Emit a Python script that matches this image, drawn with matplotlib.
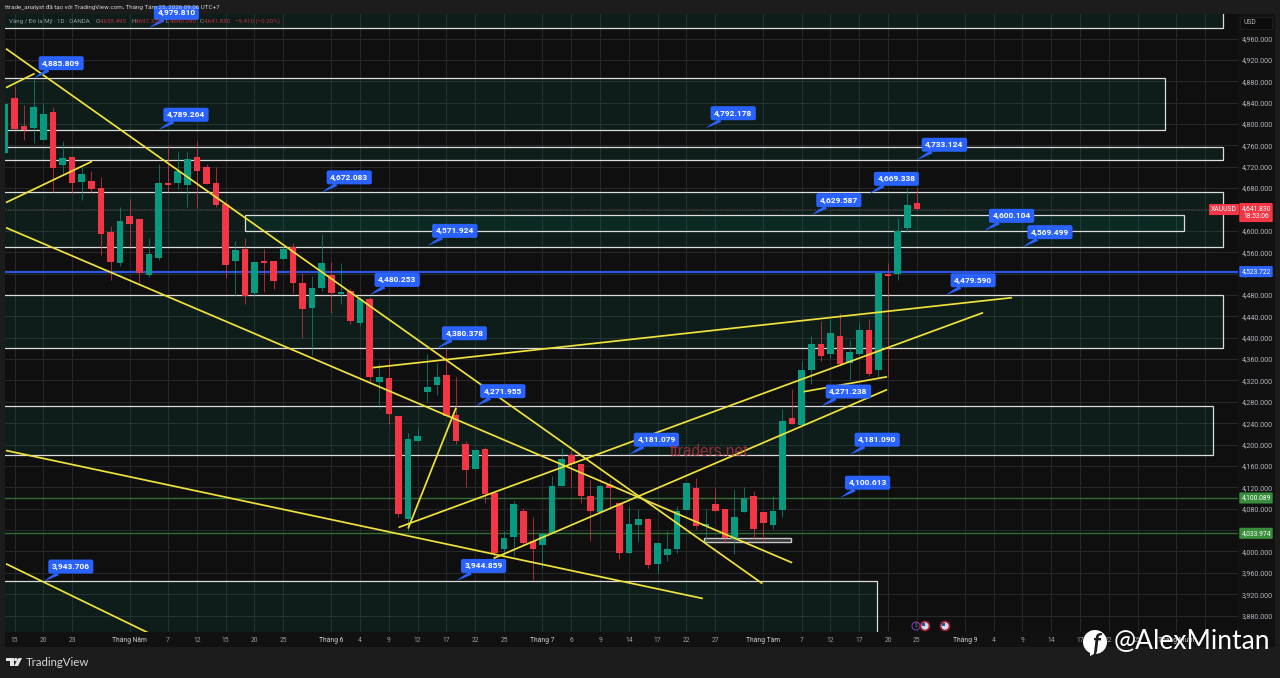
import matplotlib
matplotlib.use("Agg")
import matplotlib.pyplot as plt
from matplotlib.patches import Rectangle, Circle, Polygon

plt.rcParams["font.family"] = ["Roboto", "DejaVu Sans"]

# daily candles, bar index = position in list
opens = [4745, 4848, 4797, 4792, 4771, 4823, 4724, 4739, 4692, 4694, 4681, 4597, 4539, 4627, 4623, 4518,
         4550, 4689, 4690, 4685, 4739, 4719, 4690, 4651, 4543, 4567, 4483, 4543, 4543, 4548, 4569, 4503,
         4455, 4494, 4518, 4481, 4488, 4428, 4473, 4318, 4324, 4254, 4060, 4206, 4299, 4311, 4331, 4256,
         4202, 4155, 4191, 4110, 4005, 4028, 4075, 4019, 4013, 4035, 4123, 4180, 4163, 4103, 4073, 4125,
         4090, 3998, 4050, 4060, 3977, 3994, 4005, 4077, 4118, 4047, 4088, 4079, 4024, 4073, 4103, 4073,
         4050, 4077, 4249, 4236, 4339, 4389, 4370, 4404, 4352, 4370, 4415, 4339, 4520, 4520, 4606, 4653]
highs = [4838, 4872, 4836, 4885, 4838, 4831, 4769, 4739, 4719, 4713, 4700, 4610, 4644, 4659, 4623, 4586,
         4726, 4760, 4747, 4747, 4769, 4726, 4719, 4657, 4582, 4586, 4541, 4567, 4543, 4573, 4578, 4522,
         4516, 4595, 4541, 4539, 4494, 4477, 4477, 4352, 4363, 4254, 4221, 4232, 4369, 4352, 4380, 4326,
         4206, 4189, 4195, 4110, 4039, 4095, 4082, 4064, 4032, 4142, 4193, 4189, 4163, 4133, 4122, 4133,
         4092, 4086, 4080, 4062, 4015, 4039, 4086, 4129, 4138, 4080, 4118, 4079, 4116, 4120, 4114, 4073,
         4103, 4267, 4305, 4357, 4404, 4432, 4436, 4447, 4395, 4428, 4436, 4522, 4539, 4625, 4681, 4681]
lows = [4745, 4790, 4771, 4765, 4771, 4672, 4707, 4670, 4657, 4670, 4554, 4509, 4535, 4569, 4503, 4513,
        4546, 4672, 4679, 4644, 4642, 4687, 4644, 4511, 4479, 4464, 4479, 4485, 4492, 4548, 4483, 4400,
        4367, 4488, 4447, 4464, 4425, 4423, 4316, 4269, 4239, 4064, 4039, 4206, 4279, 4292, 4254, 4202,
        4120, 4155, 4090, 3992, 3992, 3992, 4011, 3946, 3970, 4034, 4123, 4120, 4090, 4020, 4073, 4080,
        3985, 3998, 4017, 3970, 3959, 3983, 3998, 4077, 4043, 4015, 4075, 4015, 3996, 4073, 4024, 4020,
        4043, 4064, 4238, 4236, 4314, 4357, 4363, 4348, 4320, 4367, 4329, 4327, 4326, 4509, 4597, 4640]
closes = [4838, 4790, 4788, 4831, 4818, 4717, 4737, 4690, 4707, 4679, 4595, 4541, 4619, 4612, 4522, 4556,
          4689, 4685, 4713, 4734, 4713, 4687, 4649, 4537, 4565, 4479, 4541, 4539, 4507, 4567, 4503, 4453,
          4494, 4539, 4483, 4486, 4432, 4473, 4326, 4327, 4258, 4071, 4210, 4217, 4307, 4327, 4254, 4206,
          4153, 4189, 4108, 3998, 4026, 4088, 4015, 4005, 4032, 4122, 4174, 4163, 4103, 4075, 4122, 4118,
          3998, 4052, 4060, 3974, 4015, 4005, 4075, 4129, 4047, 4052, 4075, 4026, 4065, 4101, 4043, 4054,
          4075, 4245, 4238, 4340, 4389, 4365, 4408, 4350, 4374, 4415, 4333, 4522, 4516, 4599, 4649, 4641.83]

# supply / demand boxes
zone_tops = [5030, 4885.809, 4757.5, 4672.083, 4629.587, 4479.59, 4271.955, 3944.859]
zone_bottoms = [4979.81, 4789.264, 4733.124, 4569.499, 4600.104, 4380.378, 4181.079, 3800]
zone_starts = [-2, -2, -2, -2, 25, -2, -2, -2]
zone_ends = [126.9, 120.8, 126.9, 126.9, 122.8, 126.9, 125.8, 90.8]

# trend lines
line_bars0 = [0.11, 0.11, 0.11, 0.11, 0.11, 0.11, 38.3, 41.0, 50.9, 42.0, 83.2]
line_prices0 = [4941, 4606, 4189, 3977, 4868, 4653, 4344, 4045, 3987, 4043, 4299]
line_bars1 = [78.9, 82.0, 72.7, 14.9, 3.1, 9.07, 104.9, 101.9, 91.9, 47.0, 91.9]
line_prices1 = [3940, 3979, 3912, 3848, 4894.5, 4730, 4475, 4447, 4303, 4269, 4327]

# blue callouts
label_values = [4979.810, 4885.809, 4789.264, 4792.178, 4672.083, 4629.587, 4669.338, 4733.124, 4600.104,
                4569.499, 4571.924, 4480.253, 4479.590, 4380.378, 4271.955, 4271.238, 4181.079, 4181.090,
                4100.613, 3944.859, 3943.706]
label_bars = [15, 3, 16, 73, 33, 84, 90, 95, 102, 106, 44, 38, 98, 45, 49, 85, 65, 88, 87, 47, 4]

tick_bars = [1, 4, 7, 13, 17, 20, 23, 26, 29, 34, 37, 40, 43, 46, 49, 52, 56, 59, 62, 65, 68, 71, 74, 79,
             83, 86, 89, 92, 95, 100, 103, 106, 109, 112, 115, 118, 122, 125]
tick_labels = ["15", "20", "23", "Tháng Năm", "7", "12", "15", "20", "25", "Tháng 6", "4", "9", "12", "17",
               "22", "25", "Tháng 7", "6", "9", "14", "17", "22", "27", "Tháng Tám", "7", "12", "17", "20",
               "25", "Tháng 9", "4", "9", "14", "17", "22", "25", "Tháng Mười", ""]
price_ticks = list(range(3880, 4961, 40))

last_price = 4641.83
blue_level = 4523.722
green_levels = [4100.089, 4033.974]

GREEN = "#089981"
RED = "#f23645"
BLUE = "#2962ff"
YELLOW = "#f0e23c"
GRID = "#262a2a"
TEXT = "#b2b5be"

fig = plt.figure(figsize=(12.8, 6.78), dpi=100, facecolor="#1c1c1c")


def box(left, top, right, bottom):
    return [left / 1280, 1 - bottom / 678, (right - left) / 1280, (bottom - top) / 678]


# dark panel behind chart, price scale and time scale
back = fig.add_axes(box(5, 14, 1275, 647), zorder=0, facecolor="#111111")
back.set_xticks([])
back.set_yticks([])
for s in back.spines.values():
    s.set_visible(False)

ax = fig.add_axes(box(5, 14, 1238, 632), zorder=1, facecolor="#0f0f0f")
ax.set_xlim(0.01, 128.45)
ax.set_ylim(3849.3, 5005.9)
for s in ax.spines.values():
    s.set_visible(False)

ax.set_xticks(tick_bars)
ax.set_xticklabels(tick_labels, fontsize=4.9, color="#9a9da5")
for t in ax.get_xticklabels():
    if t.get_text().startswith("Tháng"):
        t.set_color("#d0d0d0")
ax.yaxis.tick_right()
ax.set_yticks(price_ticks)
# 4,640 sits under the last price tag
ax.set_yticklabels(["" if v == 4640 else f"{v:,.3f}" for v in price_ticks], fontsize=5.1, color=TEXT)
ax.tick_params(axis="both", length=0)
ax.tick_params(axis="x", pad=3.5)
ax.tick_params(axis="y", pad=3)
ax.grid(True, color=GRID, linewidth=0.7)
ax.set_axisbelow(True)

for top, bottom, start, end in zip(zone_tops, zone_bottoms, zone_starts, zone_ends):
    ax.add_patch(Rectangle((start, bottom), end - start, top - bottom, facecolor=GREEN, alpha=0.1,
                           edgecolor="none", zorder=1))
    ax.add_patch(Rectangle((start, bottom), end - start, top - bottom, fill=False, edgecolor="#dcdcdc",
                           linewidth=0.9, zorder=1.5))
ax.add_patch(Rectangle((72.8, 4018), 9.1, 7, facecolor="#333333", edgecolor="#c8c8c8", linewidth=1.0, zorder=2.5))

# horizontal levels
ax.axhline(blue_level, color="#2a56e0", linewidth=1.6, zorder=2)
for level in green_levels:
    ax.axhline(level, color="#2f6f35", linewidth=1.0, zorder=2)
ax.axhline(last_price, color="#6b3a40", linewidth=0.7, linestyle=(0, (1, 1.5)), zorder=2)

# candles
for i, (o, h, l, c) in enumerate(zip(opens, highs, lows, closes)):
    col = GREEN if c >= o else RED
    ax.vlines(i, l, h, color=col, linewidth=0.55, alpha=0.85, zorder=3)
    ax.bar(i, abs(c - o), bottom=min(o, c), width=0.7, color=col, linewidth=0, zorder=3.2)

for x0, y0, x1, y1 in zip(line_bars0, line_prices0, line_bars1, line_prices1):
    ax.plot([x0, x1], [y0, y1], color=YELLOW, linewidth=1.25, solid_capstyle="butt", zorder=4)

for value, bar in zip(label_values, label_bars):
    ax.annotate(f"{value:,.3f}", xy=(bar, value), xytext=(27.5, 15), textcoords="offset pixels",
                ha="center", va="center", fontsize=6, fontweight="bold", color="white", zorder=6,
                bbox=dict(boxstyle="round,pad=0.42,rounding_size=0.25", fc=BLUE, ec="none"),
                arrowprops=dict(arrowstyle="wedge,tail_width=0.45,shrink_factor=0.6", color=BLUE,
                                shrinkA=0, shrinkB=0, lw=0),
                annotation_clip=False)


# tags on the price scale
def price_tag(price, text, color, dx=18, text_color="white", dy=0):
    ax.annotate(text, xy=(1, price), xycoords=ax.get_yaxis_transform(), xytext=(dx, dy),
                textcoords="offset pixels", ha="center", va="center", fontsize=4.9, color=text_color,
                zorder=7, annotation_clip=False,
                bbox=dict(boxstyle="round,pad=0.3,rounding_size=0.15", fc=color, ec="none"))


price_tag(blue_level, f"{blue_level:,.3f}", BLUE)
for level in green_levels:
    price_tag(level, f"{level:,.3f}", "#388e3c")
price_tag(last_price, f"{last_price:,.3f}\n18:53:06", RED, dy=-4)
price_tag(last_price, "XAUUSD", RED, dx=-14, dy=-1)

# header, footer and everything in screen position
over = fig.add_axes([0, 0, 1, 1], zorder=3, facecolor="none")
over.set_xlim(0, 1280)
over.set_ylim(678, 0)
over.axis("off")

over.text(5, 7.5, "ttrade_analyst đã tạo với TradingView.com, Tháng Tám 25, 2026 09:06 UTC+7",
          fontsize=4.5, color="#d0d0d0", va="center")
over.text(9, 21.5, "Vàng / Đô la Mỹ · 1D · OANDA", fontsize=4.4, color="#9a9da5", va="center")
for x, letter, val in [(96, "O", "4,655.495"), (131, "H", "4,697.335"), (166, "L", "4,640.090"),
                       (200, "C", "4,641.830")]:
    over.text(x, 21.5, letter, fontsize=4.4, color="#9a9da5", va="center")
    over.text(x + 4, 21.5, val, fontsize=4.4, color="#b5303c", va="center")
over.text(235, 21.5, "−9.410 (−0.20%)", fontsize=4.4, color="#b5303c", va="center")

over.add_patch(Rectangle((1240, 17), 32, 12, facecolor="#0d0d0d", edgecolor="#222222", linewidth=0.6))
over.text(1250, 23, "USD", fontsize=4.9, color=TEXT, ha="center", va="center")

over.text(709, 451.5, "ttraders.net", fontsize=11.2, color="#c23340", alpha=0.75, ha="center", va="center",
          family="Liberation Sans")

# event markers near the time scale
over.add_patch(Circle((916, 626), 4, facecolor="#141018", edgecolor="#6b3fa0", linewidth=0.8))
over.text(916, 626, "$", fontsize=3.6, color="#9b6fd0", ha="center", va="center")
for x in [925, 945]:
    over.add_patch(Circle((x, 626), 4.5, facecolor="#d8d8e8", edgecolor="#a01f30", linewidth=1.2))
    over.add_patch(Rectangle((x - 3, 623), 3, 3, facecolor="#2a4f9a", edgecolor="none"))

# TradingView logo
over.add_patch(Polygon([(6, 658), (13.5, 658), (13.5, 666), (10, 666), (10, 661), (6, 661)], facecolor="#e6e6e6"))
over.add_patch(Circle((15.8, 659.6), 1.7, facecolor="#e6e6e6", edgecolor="none"))
over.add_patch(Polygon([(14, 666), (18, 666), (22, 658), (18.5, 658)], facecolor="#e6e6e6"))
over.text(26, 662, "TradingView", fontsize=8.2, color="#d8d8d8", va="center", family="Lato")

# facebook watermark
over.add_patch(Circle((1095, 642), 12, facecolor="white", edgecolor="none"))
over.add_patch(Polygon([(1090, 650), (1096, 653), (1090, 656)], facecolor="white"))
over.text(1096, 644, "f", fontsize=17, color="#1c1c1c", ha="center", va="center", family="Lato",
          fontweight="bold", style="italic")
over.text(1114, 642, "@AlexMintan", fontsize=19, color="white", va="center", family="Lato")

fig.savefig("out.png", dpi=100, facecolor=fig.get_facecolor())
